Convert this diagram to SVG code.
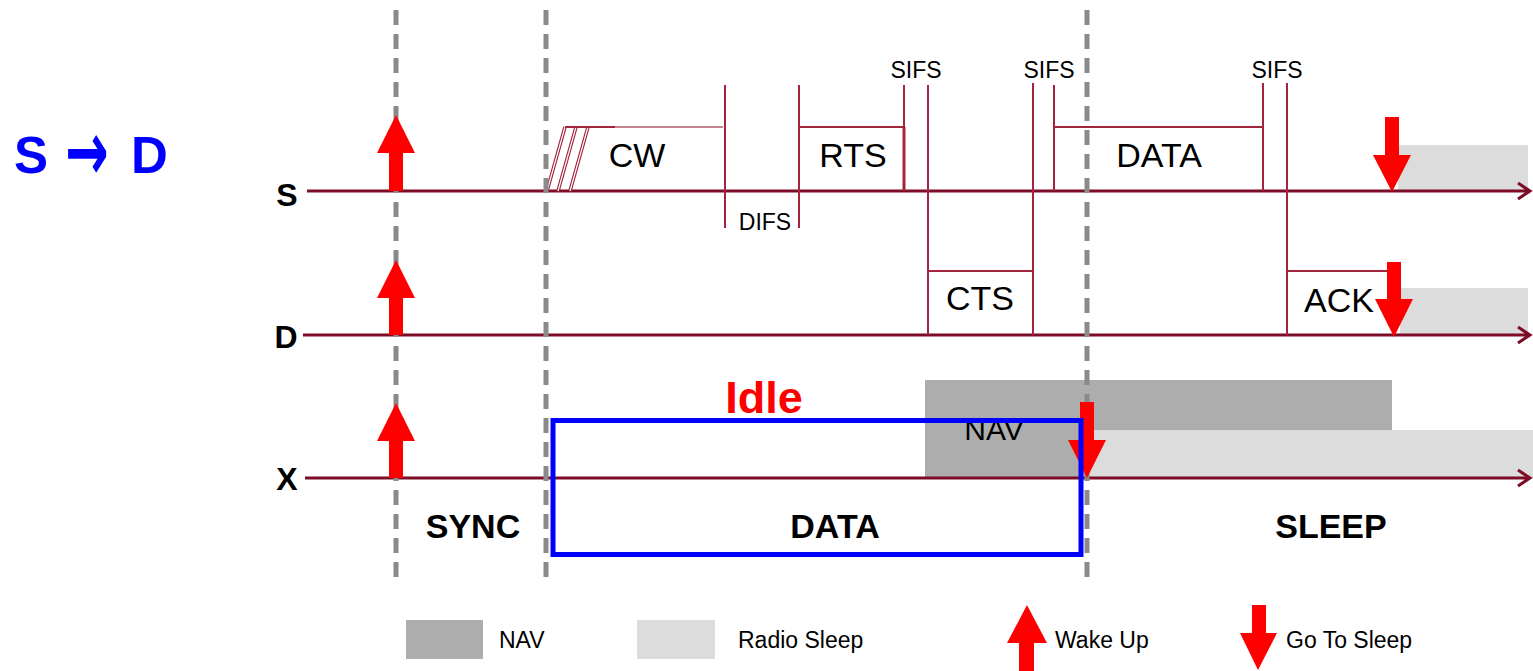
<svg xmlns="http://www.w3.org/2000/svg" width="1533" height="671" viewBox="0 0 1533 671">
<style>
text{font-family:"Liberation Sans",Arial,sans-serif}
text.arw{font-family:"DejaVu Sans",sans-serif}
.tl{stroke:#7d0c26;stroke-width:3;fill:none}
.bx{stroke:#a3243d;stroke-width:2;fill:none}
.dash{stroke:#8a8a8a;stroke-width:5;stroke-dasharray:15 9;fill:none}
.red{fill:#ff0000}
.lbl{font-size:32px;font-weight:bold;fill:#000}
.fr{font-size:34px;fill:#000}
.sm{font-size:23px;fill:#000}
.ph{font-size:34px;font-weight:bold;fill:#000}
.nav{fill:#adadad}
.slp{fill:#dcdcdc}
</style>
<rect width="1533" height="671" fill="#ffffff"/>
<g id="title">
<text y="173" font-size="51" font-weight="bold" fill="#0000ff"><tspan x="14">S</tspan><tspan x="131">D</tspan></text>
<text class="arw" transform="translate(65,180) scale(1,1.6)" x="0" y="0" font-size="52" font-weight="bold" fill="#0000ff">→</text>
</g>
<g id="gray-areas">
<rect class="slp" x="1398" y="145" width="130" height="46"/>
<rect class="slp" x="1400" y="288" width="128" height="47"/>
<rect class="nav" x="925" y="380" width="467" height="50"/>
<rect class="nav" x="925" y="430" width="162" height="48"/>
<rect class="slp" x="1087" y="430" width="446" height="48"/>
</g>
<g id="connectors">
<path class="tl" d="M307 191H1530M1518 183L1530 191L1518 199"/>
<path class="tl" d="M303 335H1530M1518 327L1530 335L1518 343"/>
<path class="tl" d="M305 478H1530M1518 470L1530 478L1518 486"/>
</g>
<g id="lane-labels">
<text class="lbl" x="287" y="206" text-anchor="middle">S</text>
<text class="lbl" x="286" y="348" text-anchor="middle">D</text>
<text class="lbl" x="287" y="490" text-anchor="middle">X</text>
</g>
<g id="cw">
<g stroke="#a3243d" stroke-width="3.5" fill="none"><path d="M547 191L565 127M558 191L576 127M570 191L588 127"/></g>
<g stroke="#ffffff" stroke-width="1.2" fill="none"><path d="M547 191L565 127M558 191L576 127M570 191L588 127"/></g>
<path d="M565 127H615" stroke="#a3243d" stroke-width="2"/>
<path d="M615 127H723" stroke="#c68591" stroke-width="2"/>
<text class="fr" x="637" y="167" text-anchor="middle">CW</text>
</g>
<g id="difs">
<path class="bx" d="M725 85V228M799 85V228"/>
<text class="sm" x="765" y="230" text-anchor="middle">DIFS</text>
</g>
<g id="rts">
<path class="bx" d="M799 127H904M904 85V191"/>
<path d="M904 127V191" stroke="#a3243d" stroke-width="3"/>
<text class="fr" x="853" y="167" text-anchor="middle">RTS</text>
</g>
<g id="sifs1">
<path class="bx" d="M928 85V335"/>
<text class="sm" x="916" y="78" text-anchor="middle">SIFS</text>
</g>
<g id="cts">
<path class="bx" d="M928 271H1033M1033 83V335"/>
<text class="fr" x="980" y="310" text-anchor="middle">CTS</text>
</g>
<g id="sifs2">
<path class="bx" d="M1054 85V191"/>
<text class="sm" x="1049" y="78" text-anchor="middle">SIFS</text>
</g>
<g id="data-frame">
<path class="bx" d="M1054 127H1263M1263 83V191"/>
<text class="fr" x="1159" y="167" text-anchor="middle">DATA</text>
</g>
<g id="sifs3">
<path class="bx" d="M1287 83V335"/>
<text class="sm" x="1277" y="78" text-anchor="middle">SIFS</text>
</g>
<g id="ack">
<path class="bx" d="M1287 271H1388"/>
<text class="fr" x="1339" y="312" text-anchor="middle">ACK</text>
</g>
<g id="nav-x">
<text x="994" y="440" font-size="30" fill="#000" text-anchor="middle">NAV</text>
</g>
<g id="dividers">
<path class="dash" d="M396 10V582"/>
<path class="dash" d="M546 10V582"/>
<path class="dash" d="M1087 10V582"/>
</g>
<g id="wake-arrows">
<polygon class="red" points="396,115 415,153 403,153 403,191 389,191 389,153 377,153"/>
<polygon class="red" points="396,260 415,298 403,298 403,335 389,335 389,298 377,298"/>
<polygon class="red" points="396,403 415,441 403,441 403,478 389,478 389,441 377,441"/>
</g>
<g id="sleep-arrows">
<polygon class="red" points="1385,117 1399,117 1399,155 1411,155 1392,192 1373,155 1385,155"/>
<polygon class="red" points="1387,262 1401,262 1401,299 1413,299 1394,337 1375,299 1387,299"/>
<polygon class="red" points="1080,402 1094,402 1094,440 1106,440 1087,478 1068,440 1080,440"/>
</g>
<g id="idle-box">
<rect x="553" y="420.5" width="528" height="134" fill="none" stroke="#0000ff" stroke-width="5"/>
<text x="764" y="413" font-size="45" font-weight="bold" fill="#ff0000" text-anchor="middle">Idle</text>
</g>
<g id="phases">
<text class="ph" x="473" y="538" text-anchor="middle">SYNC</text>
<text class="ph" x="835" y="538" text-anchor="middle">DATA</text>
<text class="ph" x="1331" y="538" text-anchor="middle">SLEEP</text>
</g>
<g id="legend">
<rect class="nav" x="406" y="620" width="77" height="39"/>
<text class="sm" x="499" y="648">NAV</text>
<rect class="slp" x="637" y="620" width="78" height="39"/>
<text class="sm" x="738" y="648">Radio Sleep</text>
<polygon class="red" points="1027,605 1047,643 1034,643 1034,671 1019,671 1019,643 1007,643"/>
<text class="sm" x="1055" y="648">Wake Up</text>
<polygon class="red" points="1252,605 1266,605 1266,633 1277,633 1258,670 1240,633 1252,633"/>
<text class="sm" x="1286" y="648">Go To Sleep</text>
</g>
</svg>
